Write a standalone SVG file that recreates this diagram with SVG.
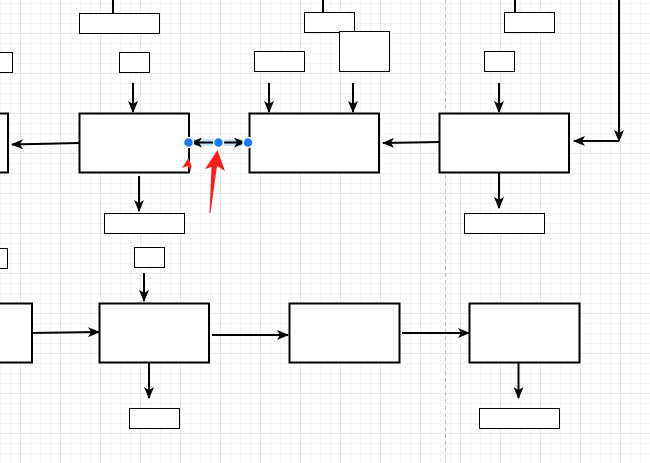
<svg xmlns="http://www.w3.org/2000/svg" width="650" height="463" viewBox="0 0 650 463">
<defs>
<pattern id="minor" patternUnits="userSpaceOnUse" x="0" y="3" width="10" height="10">
<path d="M0,0.5 H10 M0.5,0 V10" fill="none" stroke="#f4f4f4" stroke-width="1"/>
</pattern>
<pattern id="major" patternUnits="userSpaceOnUse" x="20" y="33" width="40" height="40">
<path d="M0,0.5 H40 M0.5,0 V40" fill="none" stroke="#e8e8e8" stroke-width="1"/>
</pattern>
<marker id="arr" viewBox="0 0 12 10" refX="11" refY="5" markerWidth="12" markerHeight="10" markerUnits="userSpaceOnUse" orient="auto">
<path d="M0,0 L12,5 L0,10 L3,5 Z" fill="#000"/>
</marker>
<marker id="arrs" viewBox="0 0 12 10" refX="11" refY="5" markerWidth="12" markerHeight="10" markerUnits="userSpaceOnUse" orient="auto-start-reverse">
<path d="M0,0 L12,5 L0,10 L3,5 Z" fill="#000"/>
</marker>
</defs>
<style>
.big{fill:#fff;stroke:#000;stroke-width:2}
.sm{fill:#fff;stroke:#000;stroke-width:1}
.ln{fill:none;stroke:#000;stroke-width:2}
.ar{fill:none;stroke:#000;stroke-width:2;marker-end:url(#arr)}
.dot{fill:#1a7cf0;stroke:#fff;stroke-width:1.5}
.red{fill:#f5221a}
</style>
<rect width="650" height="463" fill="#fff"/>
<rect width="650" height="463" fill="url(#minor)"/>
<rect width="650" height="463" fill="url(#major)"/>
<line x1="445.5" y1="0" x2="445.5" y2="463" stroke="#c4c4c4" stroke-width="1" stroke-dasharray="4,3"/>

<g id="connectors">
<path class="ln" d="M113,0 V13"/>
<path class="ln" d="M323,0 V12"/>
<path class="ln" d="M515,0 V12"/>
<path class="ar" d="M133,83 V112"/>
<path class="ar" d="M269,83 V112"/>
<path class="ar" d="M353,83 V112"/>
<path class="ar" d="M499,83 V112"/>
<path class="ar" d="M619,0 V141"/>
<path class="ar" d="M619,141 H574"/>
<path class="ar" d="M439,142 L383,143"/>
<path class="ar" d="M79,143 L12,144.5"/>
<path class="ar" d="M139,176 V211"/>
<path class="ar" d="M499,173 V208"/>
<path class="ar" d="M144,273 V301"/>
<path class="ar" d="M29,333 L99,332"/>
<path class="ar" d="M212,335 H288"/>
<path class="ar" d="M402,333 H469"/>
<path class="ar" d="M149,363 V398"/>
<path class="ar" d="M518.5,363 V398"/>
<line x1="188" y1="142.5" x2="248" y2="142.5" stroke="#7fc4ff" stroke-opacity="0.45" stroke-width="7"/>
<path class="ln" d="M191,142.5 H245" style="marker-start:url(#arrs);marker-end:url(#arrs)"/>
</g>

<g id="n-top1"><rect class="sm" x="79.5" y="13.5" width="80" height="20"/></g>
<g id="n-top2"><rect class="sm" x="-30.5" y="52.5" width="43" height="20"/></g>
<g id="n-top3"><rect class="sm" x="119.5" y="52.5" width="30" height="20"/></g>
<g id="n-top4"><rect class="sm" x="254.5" y="51.5" width="50" height="20"/></g>
<g id="n-top5"><rect class="sm" x="304.5" y="12.5" width="50" height="20"/></g>
<g id="n-top6"><rect class="sm" x="339.5" y="31.5" width="50" height="40"/></g>
<g id="n-top7"><rect class="sm" x="504.5" y="12.5" width="50" height="20"/></g>
<g id="n-top8"><rect class="sm" x="484.5" y="51.5" width="30" height="20"/></g>

<g id="n-a0"><rect class="big" x="-50" y="113.5" width="58" height="59"/></g>
<g id="n-a1"><rect class="big" x="79.5" y="113.5" width="109.5" height="59"/></g>
<g id="n-a2"><rect class="big" x="249.5" y="113.5" width="129.5" height="59"/></g>
<g id="n-a3"><rect class="big" x="439.5" y="113.5" width="129.5" height="59"/></g>

<g id="n-mid1"><rect class="sm" x="104.5" y="213.5" width="80" height="20"/></g>
<g id="n-mid2"><rect class="sm" x="464.5" y="213.5" width="80" height="20"/></g>
<g id="n-mid3"><rect class="sm" x="-30.5" y="248.5" width="38" height="20"/></g>
<g id="n-mid4"><rect class="sm" x="134.5" y="247.5" width="30" height="20"/></g>

<g id="n-b0"><rect class="big" x="-50" y="303.5" width="82" height="59"/></g>
<g id="n-b1"><rect class="big" x="99.5" y="303.5" width="109.5" height="59"/></g>
<g id="n-b2"><rect class="big" x="289.5" y="303.5" width="110" height="59"/></g>
<g id="n-b3"><rect class="big" x="469.5" y="303.5" width="110" height="59"/></g>

<g id="n-bot1"><rect class="sm" x="129.5" y="408.5" width="50" height="20"/></g>
<g id="n-bot2"><rect class="sm" x="479.5" y="408.5" width="80" height="20"/></g>

<g id="handles">
<circle class="dot" cx="188.5" cy="142.5" r="5"/>
<circle class="dot" cx="218.5" cy="142.5" r="5"/>
<circle class="dot" cx="248" cy="142.5" r="5"/>
</g>

<g id="annotations">
<polygon class="red" points="217.5,150 225,171 217,166 210.5,213 209.5,213 211.5,167 205,169"/>
<polygon class="red" points="188.5,158 191.5,166 190.5,171 187.5,166 182,168"/>
</g>
</svg>
